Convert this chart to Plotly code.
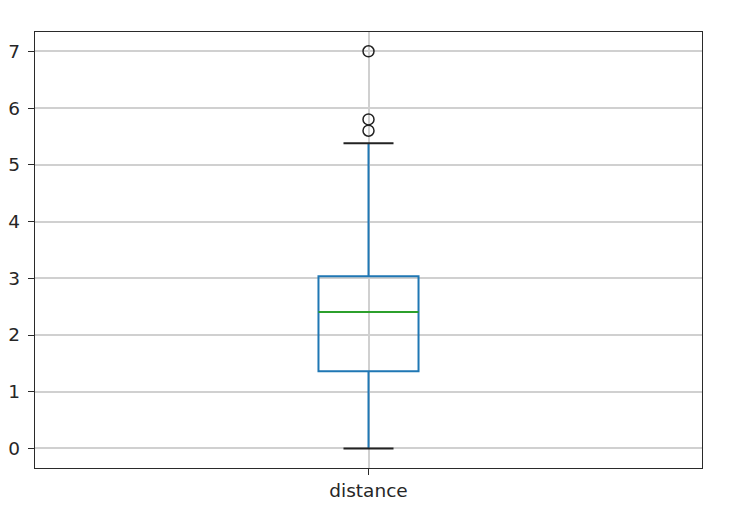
import plotly.graph_objects as go

# ---- data ----
category = ["distance"]
positions = [1]
q1 = [1.36]
median = [2.405]
q3 = [3.035]
whisker_low = [0.0]
whisker_high = [5.38]
outliers = [5.60, 5.80, 7.0]
y_ticks = [0, 1, 2, 3, 4, 5, 6, 7]

# ---- styles ----
BOX_W = 0.15
CAP_W = BOX_W / 2
FONT = dict(family="DejaVu Sans", size=18.5, color="#262626")
GRID = "#d0d0d0"
FRAME = "#2a2a2a"

fig = go.Figure()

fig.add_trace(go.Box(
    x=positions, q1=q1, median=median, q3=q3,
    lowerfence=whisker_low, upperfence=whisker_high,
    width=BOX_W, whiskerwidth=0, boxpoints=False,
    line=dict(color="#1f77b4", width=2), fillcolor="rgba(0,0,0,0)",
    hoverinfo="skip", showlegend=False,
))

# median (green)
mx, my = [], []
for p, m in zip(positions, median):
    mx += [p - BOX_W / 2, p + BOX_W / 2, None]
    my += [m, m, None]
fig.add_trace(go.Scatter(x=mx, y=my, mode="lines",
                         line=dict(color="#2ca02c", width=2),
                         hoverinfo="skip", showlegend=False))

# caps (black)
cx, cy = [], []
for p, lo, hi in zip(positions, whisker_low, whisker_high):
    for v in (lo, hi):
        cx += [p - CAP_W / 2, p + CAP_W / 2, None]
        cy += [v, v, None]
fig.add_trace(go.Scatter(x=cx, y=cy, mode="lines",
                         line=dict(color="#222222", width=2),
                         hoverinfo="skip", showlegend=False))

# outliers
fig.add_trace(go.Scatter(
    x=[positions[0]] * len(outliers), y=outliers, mode="markers",
    marker=dict(symbol="circle-open", size=11, color="#222222",
                line=dict(width=1.5, color="#222222")),
    hoverinfo="skip", showlegend=False))

# page body has an 8px default margin, so margins are offset by 8px
fig.update_layout(
    width=746, height=532,
    margin=dict(l=27, r=52, t=24, b=72),
    paper_bgcolor="white", plot_bgcolor="white",
    font=FONT, showlegend=False,
)
fig.update_xaxes(
    range=[0.5, 1.5], tickvals=positions, ticktext=category,
    showgrid=True, gridcolor=GRID, gridwidth=1.5, zeroline=False,
    showline=True, linecolor=FRAME, linewidth=1.4, mirror=True,
    ticks="outside", ticklen=6, tickwidth=1.4, tickcolor=FRAME,
    tickfont=FONT, automargin=False,
)
fig.update_yaxes(
    range=[-0.344, 7.34], tickvals=y_ticks,
    showgrid=True, gridcolor=GRID, gridwidth=1.5, zeroline=False,
    showline=True, linecolor=FRAME, linewidth=1.4, mirror=True,
    ticks="outside", ticklen=6, tickwidth=1.4, tickcolor=FRAME,
    tickfont=FONT, automargin=False, ticklabelstandoff=4,
)

fig.write_html("out.html")
